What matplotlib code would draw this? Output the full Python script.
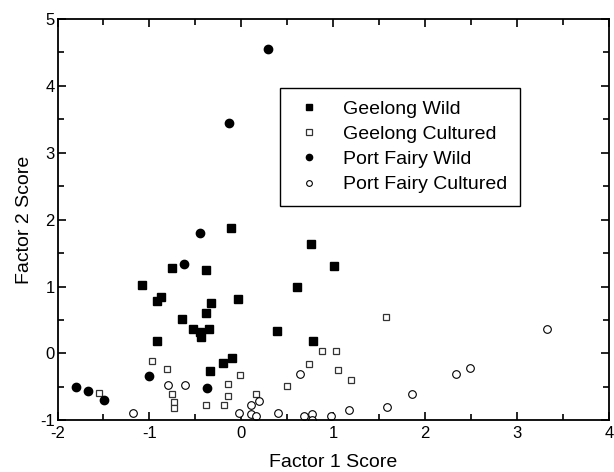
import numpy as np
import matplotlib
matplotlib.use("Agg")
import matplotlib.pyplot as plt

plt.rcParams["font.family"] = ["Liberation Sans", "DejaVu Sans"]
plt.rcParams["axes.unicode_minus"] = False

# Geelong Wild (filled squares)
gw_x = [-0.11, 0.76, 1.01, -0.75, -0.38, -1.08, 0.61, -0.87, -0.92, -0.04, -0.33,
        -0.38, -0.65, -0.53, -0.35, -0.45, -0.44, 0.39, -0.92, 0.78, -0.10, -0.20, -0.34]
gw_y = [1.87, 1.63, 1.30, 1.27, 1.25, 1.02, 1.00, 0.85, 0.79, 0.82, 0.76,
        0.60, 0.51, 0.37, 0.37, 0.32, 0.24, 0.33, 0.19, 0.19, -0.07, -0.14, -0.27]
# Geelong Cultured (open squares)
gc_x = [1.57, 0.88, 1.03, 0.74, 1.05, 1.19, -0.97, -0.81, -0.02, -0.15, 0.50,
        -1.55, -0.76, 0.16, -0.15, -0.73, -0.73, -0.38, -0.19]
gc_y = [0.55, 0.04, 0.04, -0.16, -0.25, -0.39, -0.11, -0.23, -0.32, -0.46, -0.48,
        -0.59, -0.61, -0.61, -0.64, -0.73, -0.81, -0.77, -0.77]
# Port Fairy Wild (filled circles)
pw_x = [0.29, -0.13, -0.45, -0.62, -1.00, -0.37, -1.80, -1.67, -1.49]
pw_y = [4.55, 3.45, 1.80, 1.33, -0.33, -0.52, -0.50, -0.56, -0.69]
# Port Fairy Cultured (open circles)
pc_x = [3.33, 2.49, 2.33, 1.86, 1.58, 1.17, 0.64, -0.80, -0.61, -1.18, -0.03,
        0.11, 0.19, 0.10, 0.16, 0.40, 0.68, 0.77, 0.77, 0.98]
pc_y = [0.36, -0.22, -0.31, -0.61, -0.80, -0.85, -0.31, -0.47, -0.47, -0.89, -0.89,
        -0.77, -0.71, -0.91, -0.94, -0.89, -0.94, -0.91, -0.99, -0.94]

labels = ["Geelong Wild", "Geelong Cultured", "Port Fairy Wild", "Port Fairy Cultured"]

fig = plt.figure(figsize=(6.14, 4.72), dpi=100)
ax = fig.add_axes([0.0937, 0.1095, 0.8982, 0.8502])

ax.plot(gw_x, gw_y, "s", ms=5.3, mfc="black", mec="black", label=labels[0])
ax.plot(gc_x, gc_y, "s", ms=5.0, mfc="white", mec="#333333", mew=0.9, label=labels[1])
ax.plot(pw_x, pw_y, "o", ms=6.0, mfc="black", mec="black", label=labels[2])
ax.plot(pc_x, pc_y, "o", ms=5.5, mfc="white", mec="black", mew=0.8, label=labels[3])

ax.set_xlim(-2, 4)
ax.set_ylim(-1, 5)
ax.set_xticks(np.arange(-2, 5, 1))
ax.set_yticks(np.arange(-1, 6, 1))
ax.set_xticks(np.arange(-2, 4.01, 0.5), minor=True)
ax.set_yticks(np.arange(-1, 5.01, 0.5), minor=True)
ax.tick_params(which="both", direction="in", top=True, right=True, labelsize=12, width=1.2)
ax.tick_params(which="major", length=6)
ax.tick_params(which="minor", length=4)
ax.tick_params(axis="x", which="major", pad=4)
ax.tick_params(axis="y", which="major", pad=2)
for s in ax.spines.values():
    s.set_linewidth(1.3)

ax.set_xlabel("Factor 1 Score", fontsize=14, labelpad=9.5)
ax.set_ylabel("Factor 2 Score", fontsize=14, labelpad=5)

leg = ax.legend(loc="upper left", bbox_to_anchor=(0.403, 0.829), fontsize=14,
                frameon=True, fancybox=False, edgecolor="black", framealpha=1,
                borderpad=0.65, handlelength=1.7, handletextpad=0.92,
                labelspacing=0.39, markerscale=0.75, borderaxespad=0)
leg.get_frame().set_linewidth(1.0)

fig.savefig("out.png", dpi=100)
